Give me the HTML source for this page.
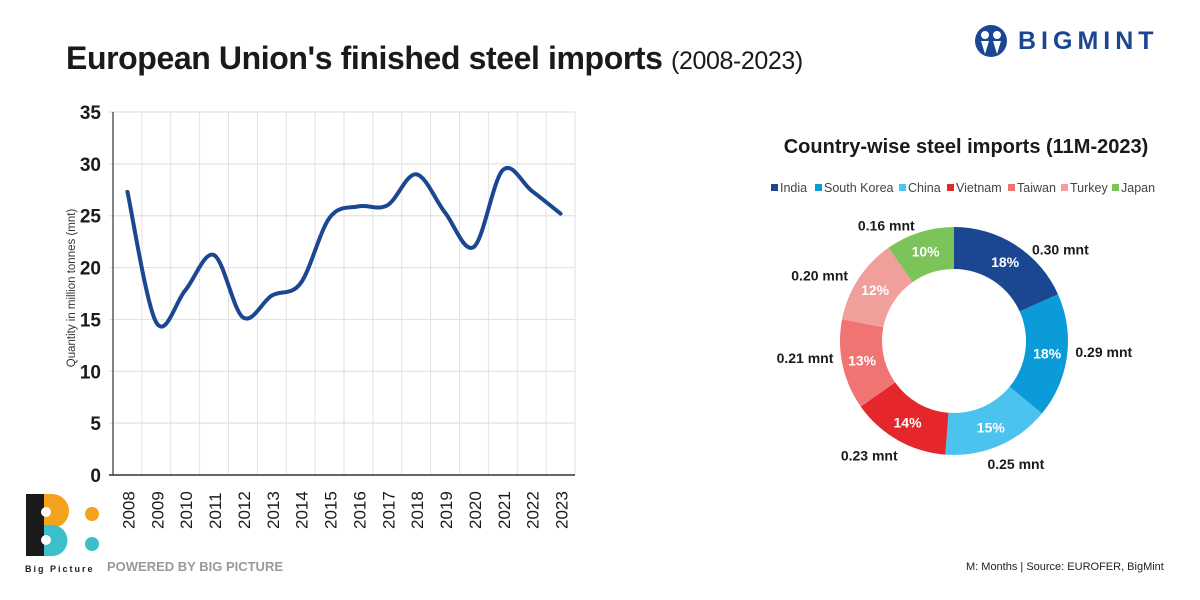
<!DOCTYPE html>
<html><head><meta charset="utf-8"><style>
body{margin:0;width:1200px;height:600px;background:#fff;font-family:"Liberation Sans",sans-serif;overflow:hidden;position:relative}
.t{position:absolute}
</style></head><body>
<div class="t" style="left:66px;top:40px;font-size:32px;font-weight:bold;color:#1a1a1a;letter-spacing:-0.4px">European Union's finished steel imports <span style="font-weight:normal;font-size:25px">(2008-2023)</span></div>
<div class="t" style="left:974px;top:24px;display:flex;align-items:center">
<svg width="36" height="34" viewBox="0 0 36 34"><circle cx="17" cy="17" r="16" fill="#1a4692"/><circle cx="11" cy="11" r="4" fill="#fff"/><circle cx="23" cy="11" r="4" fill="#fff"/><path d="M7 17 L11 30 L15 17Z M19 17 L23 30 L27 17Z" fill="#fff"/></svg>
<span style="font-size:25px;font-weight:bold;color:#1a4692;letter-spacing:5px;margin-left:8px">BIGMINT</span></div>

<svg id="line" class="t" style="left:0;top:0" width="720" height="560"></svg>
<svg id="donut" class="t" style="left:0;top:0" width="1200" height="560"></svg>

<div class="t" style="left:24px;top:492px">
<svg width="80" height="70"><path d="M2 2 H20 V64 H2Z" fill="#1a1a1a"/><path d="M14 2 H28 A14 14 0 0 1 28 36 H14Z" fill="#f4a11d"/><path d="M14 33 H28 A15 15 0 0 1 28 64 H14Z" fill="#3dbfcb"/><path d="M14 2 H20 V64 H14Z" fill="#1a1a1a"/><circle cx="22" cy="20" r="5" fill="#fff"/><circle cx="22" cy="48" r="5" fill="#fff"/><circle cx="68" cy="22" r="7" fill="#f4a11d"/><circle cx="68" cy="52" r="7" fill="#3dbfcb"/></svg></div>
<div class="t" style="left:25px;top:564px;font-size:9px;font-weight:bold;letter-spacing:2px;color:#222">Big Picture</div>
<div class="t" style="left:107px;top:559px;font-size:13px;font-weight:bold;color:#999">POWERED BY BIG PICTURE</div>
<div class="t" style="left:966px;top:561px;font-size:11px;color:#222">M: Months | Source: EUROFER, BigMint</div>

<script>
const years=["2008","2009","2010","2011","2012","2013","2014","2015","2016","2017","2018","2019","2020","2021","2022","2023"];
const imports=[27.3,14.7,17.8,21.2,15.2,17.3,18.5,24.8,25.9,26.0,29.0,25.3,22.0,29.4,27.4,25.2];
const yTicks=[0,5,10,15,20,25,30,35];
const countries=["India","South Korea","China","Vietnam","Taiwan","Turkey","Japan"];
const volumes=[0.30,0.29,0.25,0.23,0.21,0.20,0.16];
const shareLabels=["18%","18%","15%","14%","13%","12%","10%"];
const valueLabels=["0.30 mnt","0.29 mnt","0.25 mnt","0.23 mnt","0.21 mnt","0.20 mnt","0.16 mnt"];
const colors=["#1a4692","#0a9bd8","#4cc3ee","#e5262a","#ef7472","#f19f9b","#7cc35a"];
// label nudges (layout only)
const nudgeX=[33,16,9,-18,-17,-21,-27];
const nudgeY=[22,-7,-1,-3,-11,8,13];
const legendX=[771,815,899,947,1008,1061,1112];

const NS="http://www.w3.org/2000/svg";
function mk(p,tag,a,txt){const e=document.createElementNS(NS,tag);for(const k in a)e.setAttribute(k,a[k]);if(txt!==undefined)e.textContent=txt;p.appendChild(e);return e;}
const L=document.getElementById('line');
const x0=113,x1=575,y0=475,y1=112,ymax=35;
const bw=(x1-x0)/years.length;
const X=i=>x0+bw*(i+0.5);
const Y=v=>y0-(v/ymax)*(y0-y1);
for(let i=1;i<=years.length;i++){const g=mk(L,'line',{x1:x0+bw*i,x2:x0+bw*i,y1:y1,y2:y0,stroke:'#e2e2e2','stroke-width':1});
}
yTicks.forEach(t=>{
 const g=mk(L,'line',{x1:x0-4,x2:x1,y1:Y(t),y2:Y(t),stroke:t?'#e2e2e2':'#333','stroke-width':t?1.2:1.5});
 
 const tx=mk(L,'text',{x:x0-12,y:Y(t)+7,'text-anchor':'end','font-size':19,'font-weight':'bold',fill:'#1a1a1a'},t);
 
});
const ax=mk(L,'line',{x1:x0,x2:x0,y1:y1,y2:y0,stroke:'#333','stroke-width':1.2});

years.forEach((yr,i)=>{
 const tx=mk(L,'text',{transform:`translate(${X(i)+7},${y0+54}) rotate(-90)`,'font-size':17,fill:'#1a1a1a'},yr);
 
});
const yt=mk(L,'text',{transform:'translate(75,288) rotate(-90)','text-anchor':'middle','font-size':11.5,fill:'#333'},'Quantity in million tonnes (mnt)');

const pts=imports.map((v,i)=>[X(i),Y(v)]);
let d=`M${pts[0][0]},${pts[0][1]}`;
for(let i=0;i<pts.length-1;i++){const p0=pts[i-1]||pts[i],p1=pts[i],p2=pts[i+1],p3=pts[i+2]||p2;
 d+=` C${p1[0]+(p2[0]-p0[0])/6},${p1[1]+(p2[1]-p0[1])/6} ${p2[0]-(p3[0]-p1[0])/6},${p2[1]-(p3[1]-p1[1])/6} ${p2[0]},${p2[1]}`;}
const ln=mk(L,'path',{d:d,fill:'none',stroke:'#1a4692','stroke-width':4,'stroke-linecap':'round'});


const D=document.getElementById('donut');
const ct=mk(D,'text',{x:966,y:153,'text-anchor':'middle','font-size':20,'font-weight':'bold',fill:'#1a1a1a'},'Country-wise steel imports (11M-2023)');

countries.forEach((c,i)=>{
 const g=mk(D,'g',{});
 
 mk(g,'rect',{x:legendX[i],y:184,width:7,height:7,fill:colors[i]});
 mk(g,'text',{x:legendX[i]+9,y:192,'font-size':12.5,fill:'#444'},c);
});
const cx=954,cy=341,R=114,r=72;
const tot=volumes.reduce((a,b)=>a+b,0);
let a=0;
volumes.forEach((v,i)=>{
 const a2=a+v/tot*2*Math.PI;
 const P=(rad,ang)=>[cx+rad*Math.sin(ang),cy-rad*Math.cos(ang)];
 const lg=(a2-a)>Math.PI?1:0;
 const [ax1,ay1]=P(R,a),[ax2,ay2]=P(R,a2),[bx2,by2]=P(r,a2),[bx1,by1]=P(r,a);
 const s=mk(D,'path',{d:`M${ax1},${ay1} A${R},${R} 0 ${lg} 1 ${ax2},${ay2} L${bx2},${by2} A${r},${r} 0 ${lg} 0 ${bx1},${by1}Z`,fill:colors[i]});
 
 const m=(a+a2)/2;
 const [px,py]=P(94,m);
 const pt=mk(D,'text',{x:px,y:py+5,'text-anchor':'middle','font-size':14,'font-weight':'bold',fill:'#fff'},shareLabels[i]);
 
 const [qx,qy]=P(135,m);
 const vt=mk(D,'text',{x:qx+nudgeX[i],y:qy+5+nudgeY[i],'text-anchor':'middle','font-size':14,'font-weight':'bold',fill:'#1a1a1a'},valueLabels[i]);
 
 a=a2;
});
</script>
</body></html>
